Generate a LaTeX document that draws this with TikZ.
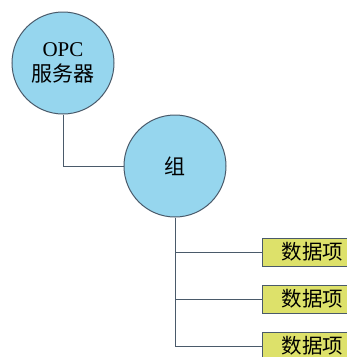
\documentclass[tikz,border=0pt]{standalone}
\usepackage{fontspec}
\setmainfont{Liberation Serif}
\newfontfamily\cjk{Noto Sans CJK SC}
\definecolor{circfill}{HTML}{96D6EE}
\definecolor{boxfill}{HTML}{DDE16A}
\definecolor{edge}{HTML}{4A5A6A}
\begin{document}
\begin{tikzpicture}[x=1pt,y=-1pt,
  circ/.style={circle,draw=edge,line width=1pt,fill=circfill,minimum size=102pt,inner sep=0pt,align=center,font=\fontsize{21}{25}\selectfont},
  itembox/.style={rectangle,draw=edge,line width=1pt,fill=boxfill,minimum width=110pt,minimum height=28pt,anchor=west,inner sep=0pt,font=\cjk\fontsize{20.5}{22}\selectfont,text width=100pt,align=left},
  conn/.style={draw=edge,line width=0.9pt}]
\useasboundingbox (0,0) rectangle (347,357);
\clip (0,0) rectangle (347,357);
\node[circ] (opc) at (63,63) {OPC\\{\cjk 服务器}};
\node[circ,font=\cjk\fontsize{21}{25}\selectfont] (grp) at (175,166) {组};
\node[itembox] (d1) at (262,252) {\hspace{14pt}数据项};
\node[itembox] (d2) at (262,299) {\hspace{14pt}数据项};
\node[itembox] (d3) at (262,346) {\hspace{14pt}数据项};
\draw[conn] (opc.south) |- (grp.west);
\draw[conn] (grp.south) |- (d3.west);
\draw[conn] (grp.south |- d1.west) -- (d1.west);
\draw[conn] (grp.south |- d2.west) -- (d2.west);
\end{tikzpicture}
\end{document}
